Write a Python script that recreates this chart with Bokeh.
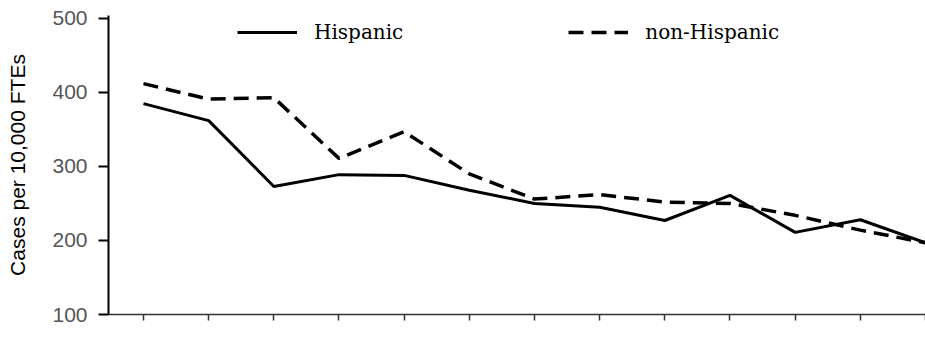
from bokeh.plotting import figure
from bokeh.models import Legend, LegendItem, Range1d, FixedTicker
from bokeh.embed import file_html
from bokeh.resources import INLINE

# data; x = position index along the time axis
x_index = [0, 1, 2, 3, 4, 5, 6, 7, 8, 9, 10, 11, 12]
hispanic = [385, 362, 273, 289, 288, 268, 250, 245, 227, 261, 211, 228, 197]
non_hispanic = [412, 391, 393, 311, 347, 290, 256, 262, 252, 250, 234, 214, 197]
y_ticks = [100, 200, 300, 400, 500]

p = figure(width=925, height=329, output_backend="svg", toolbar_location=None,
           x_range=Range1d(-0.537, 12), y_range=Range1d(100, 504.05),
           min_border_left=108, min_border_right=0, min_border_top=15, min_border_bottom=15)
p.outline_line_color = None
p.xgrid.visible = False
p.ygrid.visible = False
p.background_fill_color = "white"
p.border_fill_color = "white"

r_h = p.line(x_index, hispanic, line_color="black", line_width=3)
r_n = p.line(x_index, non_hispanic, line_color="black", line_width=3.5, line_dash="15 8")

# y axis
ya = p.yaxis[0]
ya.ticker = FixedTicker(ticks=y_ticks)
ya.axis_line_color = "black"
ya.axis_line_width = 2
ya.major_tick_line_color = "black"
ya.major_tick_line_width = 2
ya.major_tick_out = 10
ya.major_tick_in = 0
ya.minor_tick_line_color = None
ya.major_label_text_font = "Liberation Sans"
ya.major_label_text_font_size = "21px"
ya.major_label_text_color = "#555555"
ya.major_label_standoff = 11
ya.axis_label = "Cases per 10,000 FTEs"
ya.axis_label_text_font = "Liberation Sans"
ya.axis_label_text_font_size = "21px"
ya.axis_label_text_font_style = "normal"
ya.axis_label_text_color = "black"
ya.axis_label_standoff = 20

# x axis (its tick labels are not legible in the reference)
xa = p.xaxis[0]
xa.ticker = FixedTicker(ticks=x_index)
xa.axis_line_color = "#333333"
xa.axis_line_width = 1.5
xa.major_tick_line_color = "#333333"
xa.major_tick_line_width = 1.5
xa.major_tick_out = 6
xa.major_tick_in = 0
xa.minor_tick_line_color = None
xa.major_label_text_font_size = "1px"
xa.major_label_text_color = None
xa.major_label_standoff = 0

legend = Legend(items=[LegendItem(label="Hispanic", renderers=[r_h]),
                       LegendItem(label="non-Hispanic", renderers=[r_n])],
                orientation="horizontal", location=(129, 270),
                glyph_width=60, glyph_height=20, label_standoff=17, spacing=165,
                padding=0, margin=0, border_line_alpha=0, background_fill_alpha=0,
                label_text_font="DejaVu Serif", label_text_font_size="20px",
                label_text_color="black")
p.add_layout(legend, "center")

open("out.html", "w").write(file_html(p, INLINE))
